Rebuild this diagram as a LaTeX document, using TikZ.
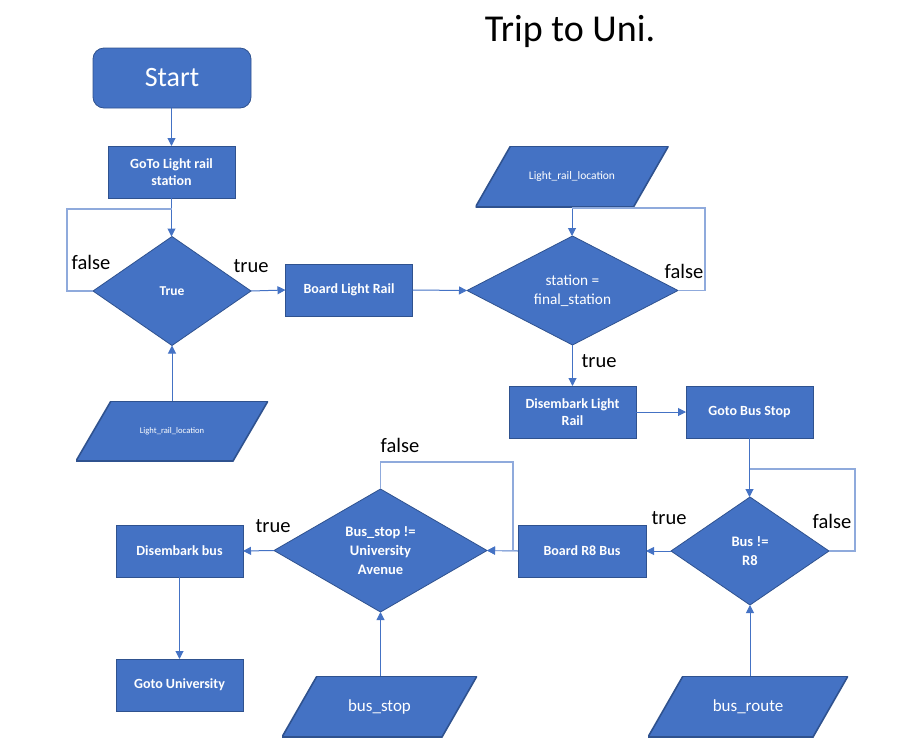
\documentclass[tikz,border=0pt]{standalone}
\usepackage{fontspec}
\setmainfont{Carlito}
\usetikzlibrary{shapes.geometric,arrows.meta}
\definecolor{fillblue}{HTML}{4472C4}
\definecolor{edgeblue}{HTML}{2F528F}
\definecolor{lineblue}{HTML}{4472C4}
\definecolor{loopblue}{HTML}{8FAADC}
\tikzset{
  boxbase/.style={fill=fillblue, draw=edgeblue, line width=0.8pt, text=white, inner sep=0pt, outer sep=0pt, align=center},
  procbox/.style={boxbase, rectangle, minimum width=127pt, minimum height=52pt, font=\bfseries\fontsize{14}{17}\selectfont},
  startbox/.style={boxbase, rectangle, rounded corners=11pt, minimum width=158pt, minimum height=60pt, font=\fontsize{28}{30}\selectfont},
  decbox/.style={boxbase, diamond, aspect=2, font=\bfseries\fontsize{14.5}{19}\selectfont},
  iobox/.style={rectangle, text=white, inner sep=0pt, outer sep=0pt, align=center, minimum height=60pt,
    path picture={\fill[fillblue, draw=edgeblue, line width=1.6pt]
      ([xshift=35pt]path picture bounding box.north west) -- (path picture bounding box.north east)
      -- ([xshift=-35pt]path picture bounding box.south east) -- (path picture bounding box.south west) -- cycle;}},
  arr/.style={draw=lineblue, line width=1pt, -{Triangle[length=8pt,width=8pt]}},
  loopline/.style={draw=loopblue, line width=1.6pt},
  looparr/.style={loopline, -{Triangle[length=8pt,width=8pt,color=lineblue]}},
  lbl/.style={font=\fontsize{20.5}{22}\selectfont, text=black, inner sep=0pt},
}
\begin{document}
\begin{tikzpicture}[x=1pt,y=-1pt]
\useasboundingbox (0,0) rectangle (898,750);
\node[font=\fontsize{38}{40}\selectfont, inner sep=0pt] (title) at (570,31) {Trip to Uni.};

\node[startbox] (start) at (172,78) {Start};
\node[procbox] (goto) at (171.5,172) {GoTo Light rail\\station};
\node[decbox, minimum width=158pt, minimum height=109pt, font=\bfseries\fontsize{13.5}{16}\selectfont] (d1) at (172,291) {True};
\node[iobox, minimum width=192pt, font=\fontsize{8.6}{10}\selectfont] (lrl1) at (172,431) {Light\_rail\_location};
\node[procbox] (board) at (349,290) {Board Light Rail};
\node[decbox, minimum width=211pt, minimum height=109pt, font=\fontsize{15.3}{19}\selectfont] (d2) at (572.5,290.5) {station =\\final\_station};
\node[iobox, minimum width=193pt, minimum height=61pt, font=\fontsize{11.5}{13}\selectfont] (lrl2) at (572,176.5) {Light\_rail\_location};
\node[procbox] (dis) at (572.5,412) {Disembark Light\\Rail};
\node[procbox] (gbs) at (749.5,412) {Goto Bus Stop};
\node[decbox, minimum width=158pt, minimum height=108pt] (d3) at (750,551) {Bus !=\\R8};
\node[procbox, minimum width=128pt] (br8) at (582,551) {Board R8 Bus};
\node[iobox, minimum width=200pt, minimum height=61pt, font=\fontsize{17}{19}\selectfont] (route) at (748,706.5) {bus\_route};
\node[decbox, minimum width=213pt, minimum height=123pt] (d4) at (380.5,550.5) {Bus\_stop !=\\University\\Avenue};
\node[iobox, minimum width=195pt, minimum height=61pt, font=\fontsize{17}{19}\selectfont] (stop) at (379.5,706.5) {bus\_stop};
\node[procbox] (disbus) at (179.5,551) {Disembark bus};
\node[procbox] (guni) at (179.5,685) {Goto University};

% joints on the main lines
\coordinate (j1) at (171.5,209);
\coordinate (j2) at (572,208);
\coordinate (j3) at (749.5,469);
\coordinate (k4) at (513,550.5);

% main flow
\draw[arr] (start.south -| goto.north) -- (goto.north);
\draw[arr] (goto.south) -- (d1.north -| goto.south);
\draw[arr] (lrl1.north) -- (d1.south);
\draw[arr] (d1.east) -- (board.west);
\draw[arr] (board.east) -- (d2.west);
\draw[arr] (lrl2.south) -- (d2.north -| lrl2.south);
\draw[arr] (d2.south) -- (dis.north -| d2.south);
\draw[arr] (dis.east) -- (gbs.west);
\draw[arr] (gbs.south) -- (d3.north -| gbs.south);
\draw[arr] (route.north -| d3.south) -- (d3.south);
\draw[arr] (d3.west) -- (br8.east);
\draw[arr] (br8.west) -- (d4.east);
\draw[arr] (stop.north -| d4.south) -- (d4.south);
\draw[arr] (d4.west) -- (disbus.east);
\draw[arr] (disbus.south) -- (guni.north);

% loops
\draw[loopline] (d1.west) -- ++(-26,0) |- (j1);
\draw[loopline] (d2.east) -- ++(27,0) |- (j2);
\draw[loopline] (d3.east) -- ++(26,0) |- (j3);
\draw[looparr] (d4.north) -- ++(0,-27) -| (k4) -- (d4.east);

% labels
\node[lbl] (f1) at (91,262) {false};
\node[lbl] (t1) at (251,266) {true};
\node[lbl] (f2) at (684,271) {false};
\node[lbl] (t2) at (599,361) {true};
\node[lbl] (t3) at (669,518) {true};
\node[lbl] (f3) at (832,521) {false};
\node[lbl] (f4) at (400,445) {false};
\node[lbl] (t4) at (273,526) {true};
\end{tikzpicture}
\end{document}
